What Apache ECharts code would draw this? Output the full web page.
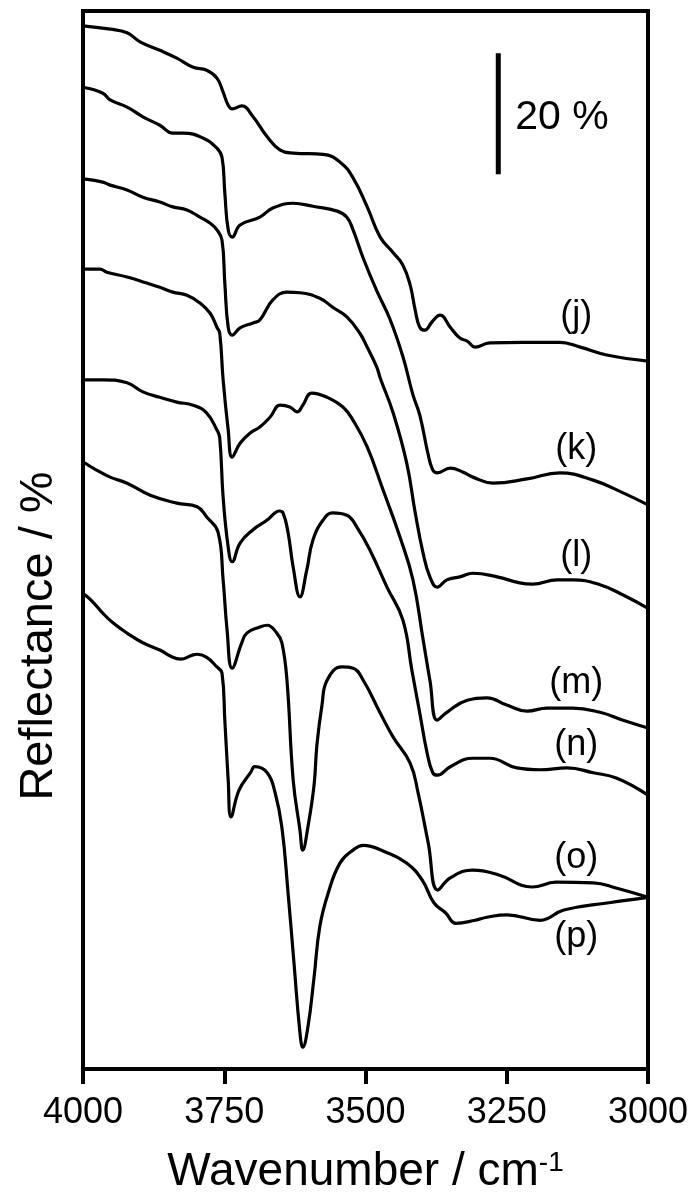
<!DOCTYPE html>
<html>
<head>
<meta charset="utf-8">
<script src="https://cdn.jsdelivr.net/npm/echarts@6/dist/echarts.min.js"></script>
<style>
html,body{margin:0;padding:0;background:#fff;}
#chart{width:697px;height:1198px;}
</style>
</head>
<body>
<div id="chart"></div>
<script>
// Wavenumber (cm-1), offset reflectance (%) pairs
const curveJ = [[3996,172.5],[3952,172.0],[3922,171.4],[3899,169.9],[3864,168.5],[3834,167.2],[3805,165.7],[3781,165.2],[3763,163.9],[3752,161.6],[3743,159.4],[3736,158.8],[3719,159.3],[3699,157.5],[3674,154.2],[3651,152.0],[3628,151.5],[3575,151.3],[3545,150.0],[3522,147.4],[3497,142.6],[3474,137.6],[3451,135.0],[3434,133.0],[3421,129.7],[3412,125.5],[3404,122.7],[3395,122.2],[3382,123.6],[3368,124.7],[3350,122.7],[3333,120.9],[3320,120.4],[3306,119.4],[3280,120.1],[3221,120.2],[3156,120.2],[3120,119.4],[3073,118.1],[3000,117.1]];
const curveK = [[3996,162.3],[3965,161.4],[3952,160.3],[3922,159.1],[3894,157.5],[3864,156.1],[3841,154.8],[3823,154.8],[3788,154.0],[3763,152.3],[3754,150.8],[3749,144.9],[3743,138.8],[3736,137.6],[3722,139.6],[3687,140.9],[3664,142.4],[3628,143.2],[3593,142.7],[3550,141.9],[3533,140.9],[3522,138.8],[3504,134.1],[3480,128.7],[3457,124.1],[3434,117.9],[3416,111.5],[3404,108.2],[3389,101.6],[3381,99.1],[3373,98.6],[3350,99.4],[3327,98.7],[3310,97.9],[3274,96.9],[3214,97.6],[3156,98.6],[3097,97.4],[3044,95.3],[3000,93.3]];
const curveL = [[3996,147.2],[3965,146.7],[3952,146.2],[3922,145.4],[3894,144.2],[3864,143.4],[3841,142.6],[3816,142.1],[3793,140.9],[3775,139.9],[3763,138.8],[3754,137.1],[3749,130.0],[3743,122.7],[3736,121.4],[3722,122.6],[3699,123.4],[3687,123.9],[3664,127.2],[3639,128.5],[3616,128.4],[3581,127.5],[3558,126.0],[3533,124.4],[3510,121.7],[3497,119.4],[3480,116.1],[3474,114.3],[3451,108.5],[3427,100.2],[3412,92.0],[3398,85.3],[3386,81.4],[3373,79.7],[3356,80.9],[3333,81.4],[3310,82.0],[3267,81.4],[3227,80.4],[3204,80.2],[3161,80.9],[3133,80.9],[3085,80.1],[3044,78.4],[3000,76.2]];
const curveM = [[3996,132.3],[3970,132.3],[3958,131.8],[3922,131.0],[3887,130.0],[3864,129.3],[3841,128.5],[3816,128.0],[3793,126.7],[3775,125.0],[3763,122.7],[3758,121.7],[3752,114.0],[3743,105.7],[3736,101.2],[3722,103.5],[3704,105.2],[3687,106.2],[3669,107.8],[3651,109.8],[3634,109.5],[3621,108.7],[3611,109.8],[3595,111.8],[3568,111.1],[3540,109.5],[3522,107.3],[3497,102.9],[3469,95.8],[3439,88.0],[3416,80.9],[3398,71.0],[3386,64.3],[3373,57.7],[3356,59.0],[3320,61.0],[3285,61.4],[3250,60.2],[3214,59.2],[3179,59.7],[3133,59.7],[3085,59.0],[3044,57.7],[3000,56.4]];
const curveN = [[3996,114.0],[3965,114.0],[3922,113.5],[3894,112.0],[3864,111.1],[3834,110.3],[3805,109.8],[3781,108.5],[3763,105.7],[3758,104.4],[3752,94.6],[3743,86.3],[3736,83.9],[3722,87.0],[3699,89.2],[3674,90.8],[3660,92.0],[3653,92.3],[3646,92.0],[3637,88.7],[3628,83.0],[3616,78.1],[3604,82.5],[3593,87.5],[3575,90.8],[3558,92.0],[3533,91.6],[3515,89.6],[3492,85.8],[3462,79.7],[3434,74.3],[3418,66.0],[3404,58.9],[3391,52.3],[3381,49.0],[3373,48.6],[3350,50.0],[3310,51.4],[3280,51.4],[3232,49.8],[3191,49.5],[3143,49.8],[3097,49.0],[3055,48.1],[3000,45.3]];
const curveO = [[3996,100.2],[3982,99.4],[3952,97.9],[3922,96.9],[3881,94.9],[3834,93.6],[3798,93.0],[3781,91.3],[3761,88.8],[3752,80.9],[3745,72.6],[3736,66.3],[3719,70.5],[3710,72.1],[3687,73.1],[3674,73.4],[3657,72.1],[3648,70.5],[3639,64.3],[3628,47.8],[3616,39.5],[3611,36.2],[3602,40.0],[3591,47.0],[3586,53.6],[3577,60.2],[3568,64.3],[3542,66.5],[3522,66.3],[3504,64.3],[3474,58.9],[3451,54.9],[3421,50.6],[3407,45.7],[3389,37.4],[3372,29.6],[3350,31.6],[3310,32.9],[3264,32.1],[3205,30.1],[3163,30.9],[3097,30.8],[3055,29.9],[3000,28.4]];
const curveP = [[3996,78.4],[3982,77.2],[3965,75.4],[3947,73.8],[3922,72.1],[3894,70.5],[3864,69.3],[3841,68.1],[3828,67.8],[3805,68.5],[3798,68.6],[3781,68.1],[3763,66.5],[3754,65.5],[3749,57.7],[3743,47.8],[3738,41.7],[3724,46.1],[3703,49.1],[3696,50.0],[3674,49.0],[3660,45.7],[3648,40.0],[3637,29.1],[3627,18.0],[3616,6.0],[3611,3.6],[3602,6.9],[3591,15.2],[3581,23.5],[3566,29.1],[3545,34.1],[3522,36.2],[3504,37.0],[3465,35.9],[3428,34.1],[3400,31.3],[3379,27.5],[3358,25.8],[3340,24.1],[3306,24.6],[3285,25.1],[3250,25.5],[3191,24.6],[3149,26.3],[3069,27.5],[3000,28.4]];

// Curve labels: [wavenumber, reflectance, text]
const curveLabels = [[3127,124.5,'(j)'],[3127,102.5,'(k)'],[3127,84.9,'(l)'],[3127,63.8,'(m)'],[3127,53.6,'(n)'],[3127,34.9,'(o)'],[3127,21.8,'(p)']];
// 20 % scale bar
const scaleBar = [[3265,148],[3265,168]];
const scaleText = [[3236,157.3,'20 %']];
const xTicks = [4000,3750,3500,3250,3000];

const FONT = 'Liberation Sans, Arial, Helvetica, sans-serif';
const chart = echarts.init(document.getElementById('chart'), null, {renderer:'canvas'});

function lineSeries(name, data){
  return {name, type:'line', data, showSymbol:false, symbol:'none', smooth:0.45,
    lineStyle:{color:'#000', width:3.2, join:'round', cap:'round'}, z:3, silent:true};
}
function textSeries(name, data, size, pos){
  return {name, type:'scatter', data, symbol:'circle', symbolSize:1,
    itemStyle:{color:'rgba(255,255,255,0)', opacity:1}, silent:true, z:5,
    label:{show:true, position:pos, distance:0, color:'#000', opacity:1, fontSize:size, fontFamily:FONT,
      formatter:function(p){ return p.data[2]; }}};
}

chart.setOption({
  animation:false,
  backgroundColor:'#fff',
  grid:{left:83, right:49, top:11, bottom:129, show:true, borderColor:'#000', borderWidth:4, outerBoundsMode:'none'},
  xAxis:{
    type:'value', min:3000, max:4000, interval:250, inverse:true,
    axisLine:{show:true, onZero:false, lineStyle:{color:'#000', width:4}},
    axisTick:{show:true, inside:false, length:15, lineStyle:{color:'#000', width:4}},
    splitLine:{show:false},
    axisLabel:{color:'#000', fontSize:36, fontFamily:FONT, margin:26,
      formatter:function(v){ return xTicks.indexOf(v) >= 0 ? String(v) : ''; }},
    name:'Wavenumber / cm{sup|-1}',
    nameLocation:'middle', nameGap:80,
    nameTextStyle:{color:'#000', fontSize:46, fontFamily:FONT,
      rich:{sup:{fontSize:28, fontFamily:FONT, color:'#000', verticalAlign:'top', lineHeight:46}}}
  },
  yAxis:{
    type:'value', min:0, max:175,
    axisLine:{show:true, onZero:false, lineStyle:{color:'#000', width:4}},
    axisTick:{show:false}, axisLabel:{show:false}, splitLine:{show:false},
    name:'Reflectance / %', nameLocation:'middle', nameRotate:90, nameGap:20,
    nameTextStyle:{color:'#000', fontSize:47, fontFamily:FONT, padding:[0,192,0,0]}
  },
  series:[
    lineSeries('j', curveJ), lineSeries('k', curveK), lineSeries('l', curveL),
    lineSeries('m', curveM), lineSeries('n', curveN), lineSeries('o', curveO), lineSeries('p', curveP),
    {name:'scale', type:'line', data:scaleBar, showSymbol:false, symbol:'none',
      lineStyle:{color:'#000', width:5}, z:4, silent:true},
    textSeries('labels', curveLabels, 36, 'inside'),
    textSeries('scaleText', scaleText, 41, 'right')
  ]
});
</script>
</body>
</html>
